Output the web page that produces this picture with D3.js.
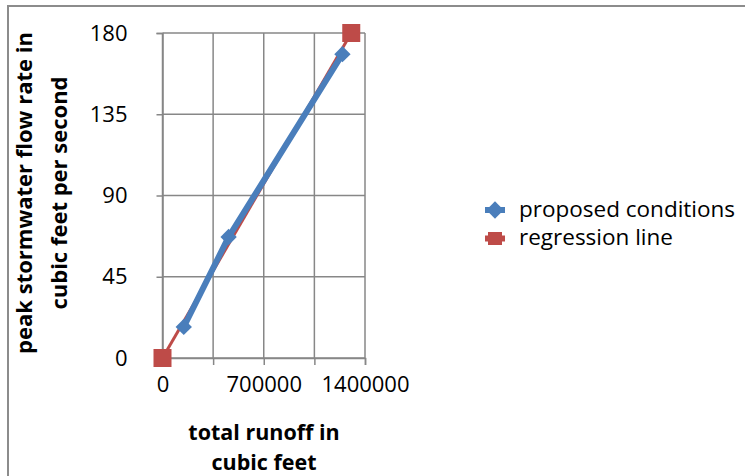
<!DOCTYPE html>
<html><head><meta charset="utf-8">
<script src="https://cdn.jsdelivr.net/npm/d3@7"></script>
<style>body{margin:0;background:#fff}</style>
</head><body>
<svg id="c" width="745" height="476"></svg>
<script>
const proposedX = [147000, 457000, 1244000];
const proposedY = [17.2, 67, 168.3];
const regressionX = [0, 1305000];
const regressionY = [0, 180];
const xTicks = [0, 350000, 700000, 1050000, 1400000];
const xTickLabels = ["0", "", "700000", "", "1400000"];
const yTicks = [0, 45, 90, 135, 180];
const seriesNames = ["proposed conditions", "regression line"];
const yTitle = ["peak stormwater flow rate in", "cubic feet per second"];
const xTitle = ["total runoff in", "cubic feet"];

const font = "'Open Sans', 'Liberation Sans', sans-serif";
const svg = d3.select("#c");
svg.append("rect").attr("x", 8).attr("y", 6).attr("width", 760).attr("height", 500)
  .attr("fill", "#fff").attr("stroke", "#8c8c8c").attr("stroke-width", 2);

const x = d3.scaleLinear().domain([0, 1400000]).range([162.5, 365]);
const y = d3.scaleLinear().domain([0, 180]).range([358, 33]);
const grid = "#878787";

const g = svg.append("g");
g.selectAll(".vg").data(xTicks).join("line")
  .attr("x1", d => x(d)).attr("x2", d => x(d)).attr("y1", y(0)).attr("y2", y(180))
  .attr("stroke", grid).attr("stroke-width", 1.5);
g.selectAll(".hg").data(yTicks).join("line")
  .attr("x1", x(0)).attr("x2", x(1400000)).attr("y1", d => y(d)).attr("y2", d => y(d))
  .attr("stroke", grid).attr("stroke-width", 1.5);

const xAxis = d3.axisBottom(x).tickValues(xTicks).tickFormat((d, i) => xTickLabels[i]).tickSize(7).tickPadding(11);
const yAxis = d3.axisLeft(y).tickValues(yTicks).tickFormat(d3.format("d")).tickSize(6).tickPadding(29);
const xa = g.append("g").attr("transform", `translate(0,${y(0)})`).call(xAxis);
const ya = g.append("g").attr("transform", `translate(${x(0)},0)`).call(yAxis);
[xa, ya].forEach(a => {
  a.select(".domain").attr("stroke", grid).attr("stroke-width", 1.5);
  a.selectAll(".tick line").attr("stroke", grid).attr("stroke-width", 1.5);
  a.selectAll("text").attr("font-family", font).attr("font-size", 22).attr("fill", "#000");
});

const line = d3.line().x(d => x(d[0])).y(d => y(d[1]));
const reg = regressionX.map((v, i) => [v, regressionY[i]]);
const prop = proposedX.map((v, i) => [v, proposedY[i]]);
const red = "#be4b48", blue = "#4a7ebb";

g.append("path").datum(reg).attr("d", line).attr("fill", "none").attr("stroke", red).attr("stroke-width", 3);
g.selectAll(".rs").data(reg).join("rect")
  .attr("x", d => x(d[0]) - 9).attr("y", d => y(d[1]) - 9).attr("width", 18).attr("height", 18).attr("fill", red);

g.append("path").datum(prop).attr("d", line).attr("fill", "none").attr("stroke", blue).attr("stroke-width", 6);
const diamond = d3.symbol().type(d3.symbolDiamond2).size(170);
g.selectAll(".pd").data(prop).join("path")
  .attr("d", diamond).attr("transform", d => `translate(${x(d[0])},${y(d[1])})`).attr("fill", blue);

const yt = svg.append("text").attr("transform", "translate(0,193) rotate(-90)")
  .attr("text-anchor", "middle").attr("font-family", font).attr("font-weight", "bold").attr("font-size", 22);
yt.selectAll("tspan").data(yTitle).join("tspan").attr("x", 0).attr("y", (d, i) => 32 + i * 35).text(d => d);

const xt = svg.append("text").attr("text-anchor", "middle").attr("font-family", font)
  .attr("font-weight", "bold").attr("font-size", 21.5);
xt.selectAll("tspan").data(xTitle).join("tspan").attr("x", 264).attr("y", (d, i) => 440 + i * 30).text(d => d);

const lg = svg.append("g");
lg.append("line").attr("x1", 485).attr("x2", 505).attr("y1", 210).attr("y2", 210).attr("stroke", blue).attr("stroke-width", 6);
lg.append("path").attr("d", d3.symbol().type(d3.symbolDiamond2).size(190)).attr("transform", "translate(495,210)").attr("fill", blue);
lg.append("line").attr("x1", 485).attr("x2", 505).attr("y1", 238.5).attr("y2", 238.5).attr("stroke", red).attr("stroke-width", 6);
lg.append("rect").attr("x", 488).attr("y", 232).attr("width", 14).attr("height", 13).attr("fill", red);
lg.selectAll("text").data(seriesNames).join("text")
  .attr("x", 519).attr("y", (d, i) => 217 + i * 28).attr("font-family", font).attr("font-size", 22.5).text(d => d);
</script>
</body></html>
